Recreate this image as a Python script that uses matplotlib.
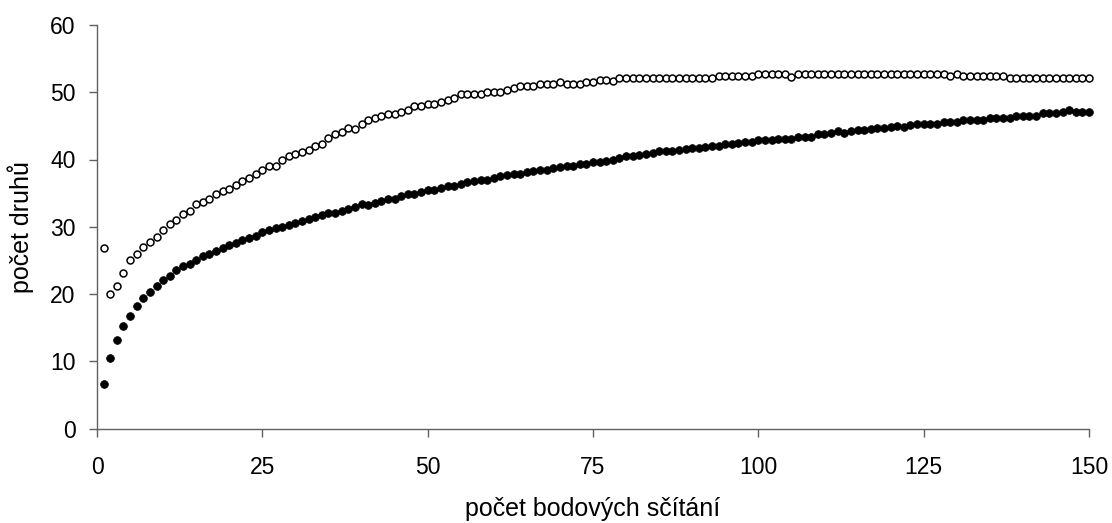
import matplotlib
matplotlib.use("Agg")
import matplotlib.pyplot as plt

plt.rcParams['font.family'] = ['Liberation Sans', 'DejaVu Sans']

x_counts = list(range(1, 151))

species_open = [
    26.85, 19.96, 21.15, 23.19, 25.02, 25.91, 27.05, 27.74, 28.54, 29.48,
    30.42, 30.96, 31.86, 32.40, 33.34, 33.64, 34.19, 34.88, 35.38, 35.68,
    36.27, 36.87, 37.31, 37.80, 38.45, 38.99, 38.99, 39.88, 40.48, 40.78,
    41.07, 41.37, 41.97, 42.26, 43.15, 43.75, 44.05, 44.64, 44.54, 45.24,
    45.83, 46.13, 46.43, 46.72, 46.72, 47.02, 47.32, 47.91, 47.91, 48.21,
    48.21, 48.51, 48.80, 49.10, 49.70, 49.70, 49.70, 49.70, 50.00, 50.00,
    50.00, 50.29, 50.59, 50.89, 50.89, 50.89, 51.18, 51.18, 51.18, 51.48,
    51.18, 51.18, 51.18, 51.48, 51.48, 51.78, 51.78, 51.70, 52.07, 52.07,
    52.07, 52.07, 52.07, 52.07, 52.07, 52.07, 52.07, 52.07, 52.07, 52.07,
    52.07, 52.07, 52.07, 52.47, 52.47, 52.47, 52.47, 52.47, 52.47, 52.67,
    52.67, 52.67, 52.67, 52.67, 52.27, 52.67, 52.67, 52.67, 52.67, 52.67,
    52.67, 52.67, 52.67, 52.67, 52.67, 52.67, 52.67, 52.67, 52.67, 52.67,
    52.67, 52.67, 52.67, 52.67, 52.67, 52.67, 52.67, 52.67, 52.47, 52.77,
    52.37, 52.37, 52.37, 52.37, 52.37, 52.37, 52.37, 52.07, 52.07, 52.07,
    52.07, 52.07, 52.07, 52.07, 52.07, 52.07, 52.07, 52.07, 52.07, 52.07,
]

species_filled = [
    6.59, 10.45, 13.13, 15.21, 16.74, 18.18, 19.37, 20.26, 21.15, 22.05,
    22.64, 23.53, 24.13, 24.42, 25.02, 25.61, 26.01, 26.41, 26.80, 27.30,
    27.59, 27.99, 28.39, 28.69, 29.15, 29.48, 29.80, 30.00, 30.30, 30.60,
    30.90, 31.20, 31.40, 31.70, 32.00, 32.10, 32.30, 32.60, 32.90, 33.40,
    33.20, 33.50, 33.90, 34.20, 34.20, 34.50, 34.80, 34.80, 35.10, 35.40,
    35.42, 35.82, 36.12, 36.12, 36.42, 36.61, 36.81, 37.01, 37.01, 37.31,
    37.51, 37.70, 37.90, 37.90, 38.10, 38.30, 38.40, 38.40, 38.70, 38.89,
    39.09, 38.99, 39.29, 39.39, 39.59, 39.69, 39.85, 39.98, 40.28, 40.48,
    40.58, 40.70, 40.88, 40.97, 41.27, 41.27, 41.30, 41.47, 41.57, 41.77,
    41.77, 41.87, 42.07, 42.07, 42.36, 42.36, 42.46, 42.66, 42.56, 42.96,
    42.96, 42.90, 43.01, 43.01, 43.11, 43.40, 43.40, 43.40, 43.80, 43.80,
    43.90, 44.20, 44.00, 44.20, 44.40, 44.40, 44.50, 44.69, 44.69, 44.79,
    44.99, 44.89, 45.09, 45.29, 45.29, 45.29, 45.27, 45.53, 45.63, 45.63,
    45.83, 45.93, 45.93, 45.93, 46.13, 46.13, 46.13, 46.13, 46.42, 46.42,
    46.42, 46.52, 46.92, 46.92, 46.92, 47.02, 47.32, 47.02, 47.02, 47.02,
]

x_ticks = [0, 25, 50, 75, 100, 125, 150]
y_ticks = [0, 10, 20, 30, 40, 50, 60]
x_label = "počet bodových sčítání"
y_label = "počet druhů"

fig = plt.figure(figsize=(11.12, 5.23), dpi=100)
ax_h = 428.5 - 25
ax = fig.add_axes([97 / 1112, 1 - 428.5 / 523, (1089 - 97) / 1112, ax_h / 523])

ax.plot(x_counts, species_open, linestyle='none', marker='o', markersize=5.0,
        markerfacecolor='white', markeredgecolor='black', markeredgewidth=1.1, clip_on=False)
ax.plot(x_counts, species_filled, linestyle='none', marker='o', markersize=5.6,
        markerfacecolor='black', markeredgecolor='black', markeredgewidth=0.5, clip_on=False)

ax.set_xlim(0, 150)
ax.set_ylim(0, 60)
ax.set_xticks(x_ticks)
ax.set_yticks(y_ticks)
ax.set_xticklabels([str(v) for v in x_ticks])
ax.set_yticklabels([str(v) for v in y_ticks])

for s in ['top', 'right']:
    ax.spines[s].set_visible(False)
for s in ['left', 'bottom']:
    ax.spines[s].set_color('#606060')
    ax.spines[s].set_linewidth(1.0)

ax.tick_params(axis='both', direction='out', length=5.5, width=1.0, color='#606060',
               labelsize=16.5, labelcolor='black')
ax.tick_params(axis='x', pad=14)
ax.tick_params(axis='y', pad=10)

ax.set_xlabel(x_label, fontsize=18)
ax.set_ylabel(y_label, fontsize=18)
ax.xaxis.set_label_coords(0.5, -(497 - 428.5) / ax_h)
ax.yaxis.set_label_coords((34 - 97) / 992, 0.5)

fig.savefig("out.png", dpi=100)
